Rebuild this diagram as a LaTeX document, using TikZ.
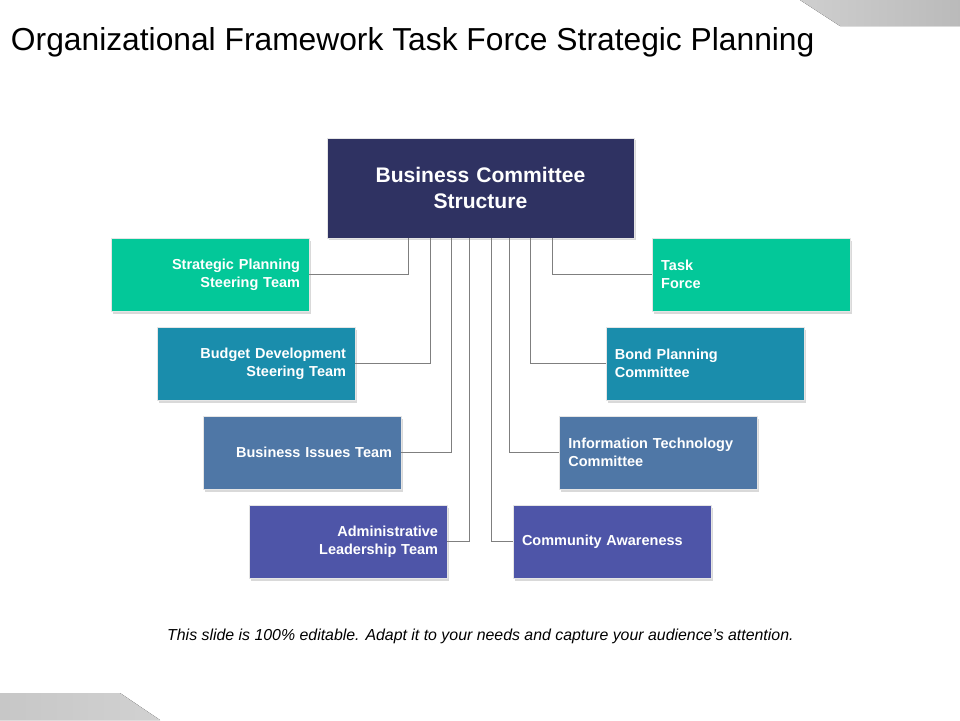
\documentclass[tikz,border=0pt]{standalone}
\usepackage{fontspec}
\setmainfont{Liberation Sans}
\usetikzlibrary{positioning,shadows}
\definecolor{navyhead}{HTML}{2F3262}
\definecolor{mint}{HTML}{03C899}
\definecolor{petrol}{HTML}{1A8DAC}
\definecolor{steel}{HTML}{4F77A6}
\definecolor{indigo}{HTML}{4E55A8}
\definecolor{connline}{HTML}{7F7F7F}
\tikzstyle{headblock} = [rectangle, minimum width=7.675cm, minimum height=2.5cm, text centered, text width=7cm, draw=white!80!gray, fill=navyhead, text=white, font=\bfseries\fontsize{15}{18}\selectfont, drop shadow={shadow xshift=0.05cm, shadow yshift=-0.06cm, opacity=0.3}]
\tikzstyle{leftblock} = [rectangle, minimum width=4.95cm, minimum height=1.825cm, inner sep=0.225cm, text width=4.5cm, align=right, draw=white!80!gray, text=white, font=\bfseries\fontsize{10.3}{12.8}\selectfont, drop shadow={shadow xshift=0.05cm, shadow yshift=-0.06cm, opacity=0.3}]
\tikzstyle{rightblock} = [leftblock, align=left]
\tikzstyle{conn} = [draw=connline, line width=0.7pt]
\begin{document}
\begin{tikzpicture}[node distance=2.225cm]

	\useasboundingbox (0,0) rectangle (24,-18);

	\fill[left color=black!19, right color=black!27] (20,0) -- (24,0) -- (24,-0.65) -- (21,-0.65) -- cycle;
	\fill[left color=black!22, right color=black!18] (0,-17.325) -- (3,-17.325) -- (4,-18) -- (0,-18) -- cycle;

	\node (title) [anchor=base west, font=\fontsize{22.6}{26}\selectfont] at (0.15,-1.25) {Organizational Framework Task Force Strategic Planning};

	\node (head) [headblock] at (12.01,-4.7) {Business Committee\\Structure};



	\node (strategic) [leftblock, fill=mint, below of=head, xshift=-6.76cm, yshift=0.06cm] {Strategic Planning\\Steering Team};

	\node (budget) [leftblock, fill=petrol, below of=strategic, xshift=1.15cm] {Budget Development\\Steering Team};

	\node (issues) [leftblock, fill=steel, below of=budget, xshift=1.15cm] {Business Issues Team};

	\node (admin) [leftblock, fill=indigo, below of=issues, xshift=1.15cm] {Administrative\\Leadership Team};

	\node (taskforce) [rightblock, fill=mint, below of=head, xshift=6.77cm, yshift=0.06cm] {Task\\Force};

	\node (bond) [rightblock, fill=petrol, below of=taskforce, xshift=-1.16cm] {Bond Planning\\Committee};

	\node (infotech) [rightblock, fill=steel, below of=bond, xshift=-1.16cm] {Information Technology\\Committee};

	\node (community) [rightblock, fill=indigo, below of=infotech, xshift=-1.16cm] {Community Awareness};

	\node (footer) [anchor=base, font=\itshape\fontsize{11.3}{13}\selectfont] at (12.01,-16.0) {This slide is 100\% editable. Adapt it to your needs and capture your audience's attention.};



	\draw [conn] (head.215) |- (strategic.east);
	\draw [conn] (head.225) |- (budget.east);
	\draw [conn] (head.240) |- (issues.east);
	\draw [conn] (head.258) |- (admin.east);

	\draw [conn] (head.325) |- (taskforce.west);
	\draw [conn] (head.315) |- (bond.west);
	\draw [conn] (head.300) |- (infotech.west);
	\draw [conn] (head.282) |- (community.west);

\end{tikzpicture}
\end{document}
